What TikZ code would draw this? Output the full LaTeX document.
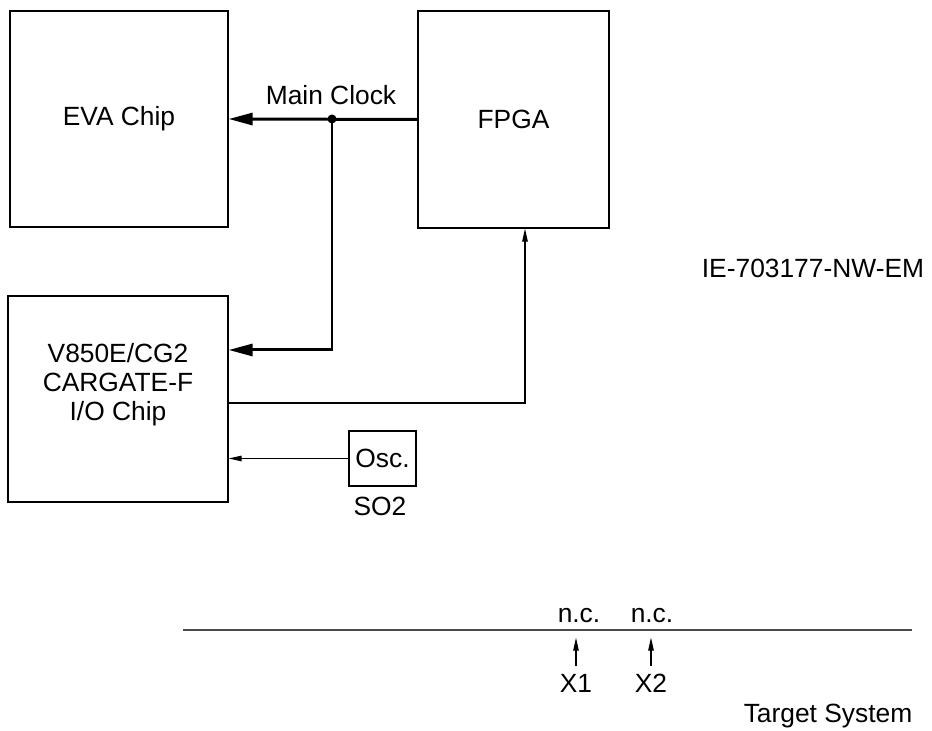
\documentclass[tikz,border=0pt]{standalone}
\usepackage{fontspec}
\setmainfont{Liberation Sans}
\usepackage{tikz}
\usetikzlibrary{positioning,calc,arrows.meta}

\tikzset{
  chip/.style={draw, line width=0.7pt, inner sep=0pt},
  clockline/.style={line width=1.7pt, -{Triangle[length=0.48cm, width=0.24cm]}},
  sigline/.style={line width=0.6pt, -{Triangle[length=0.26cm, width=0.11cm]}},
}

\begin{document}
\begin{tikzpicture}[font=\fontsize{15}{18}\selectfont]
      \useasboundingbox (0,0) rectangle (18.64,14.62);

      % chips
      \node[chip, minimum width=4.36cm, minimum height=4.32cm] (eva) at (2.38,12.24) {EVA Chip};
      \node[chip, minimum width=3.82cm, minimum height=4.34cm] (fpga) at (10.27,12.23) {FPGA};
      \node[chip, minimum width=4.4cm, minimum height=4.12cm] (io) at (2.36,6.64) {};
      \node[align=center] (iotext) at (2.36,6.93) {V850E/CG2\\[-1.5pt]CARGATE-F\\[-1.5pt]I/O Chip};
      \node[chip, minimum width=1.34cm, minimum height=1.1cm] (osc) at (7.65,5.45) {Osc.};
      \node (so2) at (7.6,4.5) {SO2};
      \node (board) at (16.26,9.26) {IE-703177-NW-EM};

      % main clock
      \coordinate (junc) at (6.64,12.24);
      \coordinate (ioclk) at ($ (io.east) + (0,0.98) $);
      \draw[clockline] (fpga.west) -- (eva.east);
      \draw[clockline] (junc) |- (ioclk);
      \fill (junc) circle (0.09);
      \node (clk) at (6.62,12.72) {Main Clock};

      % other signals
      \coordinate (iofpga) at ($ (io.east) + (0,-0.08) $);
      \coordinate (fpgain) at ($ (fpga.south) + (0.23,0) $);
      \draw[sigline] (iofpga) -| (fpgain);
      \draw[sigline] (osc.west) -- (osc.west -| io.east);

      % target system
      \coordinate (tsl) at (3.66,2.02);
      \coordinate (tsr) at (18.24,2.02);
      \draw[line width=0.6pt, black!70] (tsl) -- (tsr);
      \node (nc1) at (11.58,2.3) {n.c.};
      \node (nc2) at (13.04,2.3) {n.c.};
      \node (x1) at (11.52,0.95) {X1};
      \node (x2) at (13.02,0.95) {X2};
      \draw[sigline] ([yshift=0.05cm]x1.north) -- ++(0,0.56);
      \draw[sigline] ([yshift=0.05cm]x2.north) -- ++(0,0.56);
      \node (target) at (16.56,0.3) {Target System};
\end{tikzpicture}
\end{document}
